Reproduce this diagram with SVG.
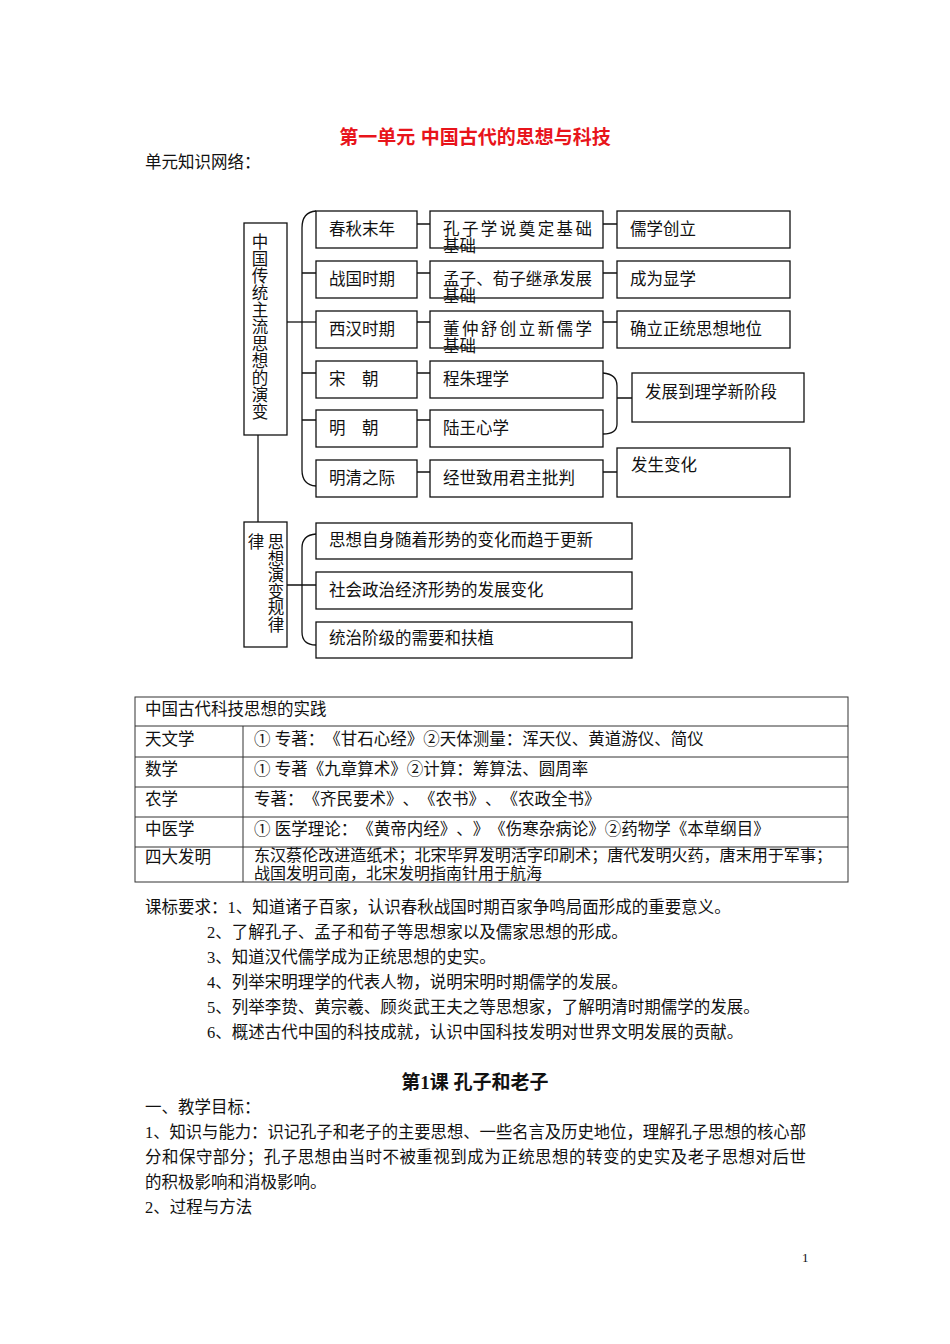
<svg xmlns="http://www.w3.org/2000/svg" width="950" height="1344" viewBox="0 0 950 1344">
<style>
text{text-spacing-trim:space-all}
.t{font-family:"Liberation Serif","Noto Sans CJK SC",serif;font-size:16.5px;fill:#111}
.box{fill:#fff;stroke:#111;stroke-width:1.3}
.ln{fill:none;stroke:#111;stroke-width:1.3}
.tb{fill:none;stroke:#333;stroke-width:1}
.m{text-anchor:middle}
.h1{font-family:"Liberation Sans","Noto Sans CJK SC",sans-serif;font-weight:bold;font-size:19px;fill:#e8141b}
.h2{font-family:"Liberation Serif","Noto Sans CJK SC",serif;font-weight:bold;font-size:19px;fill:#111}
</style>
<rect width="950" height="1344" fill="#fff"/>
<g id="header">
<text class="h1" x="475" y="144" text-anchor="middle">第一单元 中国古代的思想与科技</text>
<text class="t" x="145" y="168">单元知识网络：</text>
</g>
<g id="connectors">
<path class="ln" d="M287,322 H316"/>
<path class="ln" d="M316,211 Q302,212 302,228 V470 Q302,485 316,486"/>
<path class="ln" d="M302,273 H316 M302,373 H316 M302,420 H316"/>
<path class="ln" d="M417,224 H430 M417,273 H430 M417,322 H430 M417,373 H430 M417,420 H430 M417,472 H430"/>
<path class="ln" d="M603,224 H617 M603,273 H617 M603,322 H617 M603,472 H617"/>
<path class="ln" d="M603,373 Q617,374 617,386 V424 Q617,434 603,434 M617,398 H632"/>
<path class="ln" d="M258,435 V522"/>
<path class="ln" d="M316,534 Q302,535 302,548 V632 Q302,645 316,645 M287,585 H316"/>
</g>
<g id="n-main">
<rect class="box" x="244" y="223" width="43" height="212"/>
<text class="t m"><tspan x="260" y="248">中</tspan><tspan x="260" dy="17">国</tspan><tspan x="260" dy="17">传</tspan><tspan x="260" dy="17">统</tspan><tspan x="260" dy="17">主</tspan><tspan x="260" dy="17">流</tspan><tspan x="260" dy="17">思</tspan><tspan x="260" dy="17">想</tspan><tspan x="260" dy="17">的</tspan><tspan x="260" dy="17">演</tspan><tspan x="260" dy="17">变</tspan></text>
</g>
<g id="n-c1-1"><rect class="box" x="316" y="211" width="101" height="37"/><text class="t" x="329" y="235">春秋末年</text></g>
<g id="n-c1-2"><rect class="box" x="316" y="261" width="101" height="37"/><text class="t" x="329" y="285">战国时期</text></g>
<g id="n-c1-3"><rect class="box" x="316" y="311" width="101" height="37"/><text class="t" x="329" y="335">西汉时期</text></g>
<g id="n-c1-4"><rect class="box" x="316" y="361" width="101" height="37"/><text class="t" x="329" y="385">宋　朝</text></g>
<g id="n-c1-5"><rect class="box" x="316" y="410" width="101" height="37"/><text class="t" x="329" y="434">明　朝</text></g>
<g id="n-c1-6"><rect class="box" x="316" y="460" width="101" height="37"/><text class="t" x="329" y="484">明清之际</text></g>
<g id="n-c2-1"><rect class="box" x="430" y="211" width="173" height="37"/><text class="t" x="443" y="235" textLength="149" lengthAdjust="spacing">孔子学说奠定基础</text><text class="t" x="443" y="252">基础</text></g>
<g id="n-c2-2"><rect class="box" x="430" y="261" width="173" height="37"/><text class="t" x="443" y="285" textLength="149" lengthAdjust="spacing">孟子、荀子继承发展</text><text class="t" x="443" y="302">基础</text></g>
<g id="n-c2-3"><rect class="box" x="430" y="311" width="173" height="37"/><text class="t" x="443" y="335" textLength="149" lengthAdjust="spacing">董仲舒创立新儒学</text><text class="t" x="443" y="352">基础</text></g>
<g id="n-c2-4"><rect class="box" x="430" y="361" width="173" height="37"/><text class="t" x="443" y="385">程朱理学</text></g>
<g id="n-c2-5"><rect class="box" x="430" y="410" width="173" height="37"/><text class="t" x="443" y="434">陆王心学</text></g>
<g id="n-c2-6"><rect class="box" x="430" y="460" width="173" height="37"/><text class="t" x="443" y="484">经世致用君主批判</text></g>
<g id="n-c3-1"><rect class="box" x="617" y="211" width="173" height="37"/><text class="t" x="630" y="235">儒学创立</text></g>
<g id="n-c3-2"><rect class="box" x="617" y="261" width="173" height="37"/><text class="t" x="630" y="285">成为显学</text></g>
<g id="n-c3-3"><rect class="box" x="617" y="311" width="173" height="37"/><text class="t" x="630" y="335">确立正统思想地位</text></g>
<g id="n-c3-45"><rect class="box" x="632" y="373" width="172" height="49"/><text class="t" x="645" y="398">发展到理学新阶段</text></g>
<g id="n-c3-6"><rect class="box" x="617" y="448" width="173" height="49"/><text class="t" x="631" y="471">发生变化</text></g>
<g id="n-law">
<rect class="box" x="244" y="522" width="43" height="125"/>
<text class="t m" x="256" y="548">律</text>
<text class="t m"><tspan x="276" y="548">思</tspan><tspan x="276" dy="16.6">想</tspan><tspan x="276" dy="16.6">演</tspan><tspan x="276" dy="16.6">变</tspan><tspan x="276" dy="16.6">规</tspan><tspan x="276" dy="16.6">律</tspan></text>
</g>
<g id="n-law-1"><rect class="box" x="316" y="523" width="316" height="36"/><text class="t" x="329" y="546">思想自身随着形势的变化而趋于更新</text></g>
<g id="n-law-2"><rect class="box" x="316" y="572" width="316" height="37"/><text class="t" x="329" y="596">社会政治经济形势的发展变化</text></g>
<g id="n-law-3"><rect class="box" x="316" y="622" width="316" height="36"/><text class="t" x="329" y="644">统治阶级的需要和扶植</text></g>
<g id="table">
<rect class="tb" x="135" y="697" width="713" height="185"/>
<path class="tb" d="M135,726 H848 M135,757 H848 M135,787 H848 M135,817 H848 M135,847 H848 M243,726 V882"/>
<text class="t" x="145" y="715">中国古代科技思想的实践</text>
<text class="t" x="145" y="745">天文学</text>
<text class="t" x="254" y="745">① 专著：《甘石心经》②天体测量：浑天仪、黄道游仪、简仪</text>
<text class="t" x="145" y="775">数学</text>
<text class="t" x="254" y="775">① 专著《九章算术》②计算：筹算法、圆周率</text>
<text class="t" x="145" y="805">农学</text>
<text class="t" x="254" y="805">专著：《齐民要术》、《农书》、《农政全书》</text>
<text class="t" x="145" y="835">中医学</text>
<text class="t" x="254" y="835">① 医学理论：《黄帝内经》、》《伤寒杂病论》②药物学《本草纲目》</text>
<text class="t" x="145" y="863">四大发明</text>
<text class="t" x="254" y="861" textLength="578" lengthAdjust="spacingAndGlyphs" style="font-size:16px">东汉蔡伦改进造纸术；北宋毕昇发明活字印刷术；唐代发明火药，唐末用于军事；</text>
<text class="t" x="254" y="879" style="font-size:16px">战国发明司南，北宋发明指南针用于航海</text>
</g>
<g id="requirements">
<text class="t" x="145" y="913">课标要求：1、知道诸子百家，认识春秋战国时期百家争鸣局面形成的重要意义。</text>
<text class="t" x="207" y="938">2、了解孔子、孟子和荀子等思想家以及儒家思想的形成。</text>
<text class="t" x="207" y="963">3、知道汉代儒学成为正统思想的史实。</text>
<text class="t" x="207" y="988">4、列举宋明理学的代表人物，说明宋明时期儒学的发展。</text>
<text class="t" x="207" y="1013">5、列举李贽、黄宗羲、顾炎武王夫之等思想家，了解明清时期儒学的发展。</text>
<text class="t" x="207" y="1038">6、概述古代中国的科技成就，认识中国科技发明对世界文明发展的贡献。</text>
</g>
<g id="lesson">
<text class="h2" x="475" y="1089" text-anchor="middle">第1课 孔子和老子</text>
<text class="t" x="145" y="1113">一、教学目标：</text>
<text class="t" x="145" y="1138" textLength="661" lengthAdjust="spacingAndGlyphs">1、知识与能力：识记孔子和老子的主要思想、一些名言及历史地位，理解孔子思想的核心部</text>
<text class="t" x="145" y="1163" textLength="661" lengthAdjust="spacing">分和保守部分；孔子思想由当时不被重视到成为正统思想的转变的史实及老子思想对后世</text>
<text class="t" x="145" y="1188">的积极影响和消极影响。</text>
<text class="t" x="145" y="1213">2、过程与方法</text>
<text x="802" y="1262" style="font-family:'Liberation Serif',serif;font-size:13px;fill:#111">1</text>
</g>
</svg>
